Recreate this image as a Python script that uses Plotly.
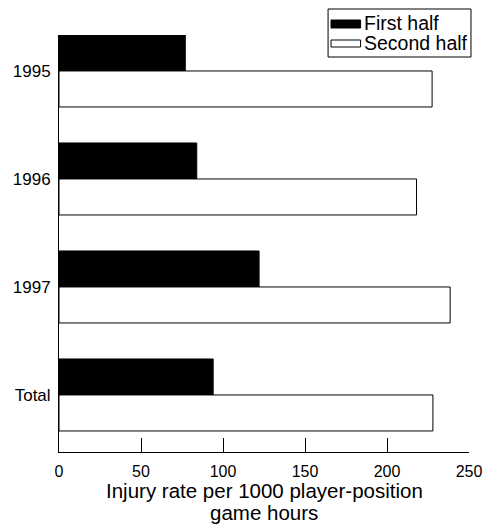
import plotly.graph_objects as go

# Injury rates per 1000 player-position game hours, by season and half
seasons = ["1995", "1996", "1997", "Total"]
first_half = [77, 84, 122, 94]
second_half = [227.5, 218, 238.5, 228]
x_ticks = [0, 50, 100, 150, 200, 250]
legend_labels = ["First half", "Second half"]
x_title_lines = ["Injury rate per 1000 player-position", "game hours"]

FONT = "Liberation Sans, Arial, Helvetica, sans-serif"

fig = go.Figure()
fig.add_trace(go.Bar(
    y=seasons, x=first_half, orientation="h", name=legend_labels[0],
    marker=dict(color="black", line=dict(color="black", width=1)),
    showlegend=False,
))
fig.add_trace(go.Bar(
    y=seasons, x=second_half, orientation="h", name=legend_labels[1],
    marker=dict(color="white", line=dict(color="black", width=1)),
    showlegend=False,
))

# Helpers converting pixel positions to paper fractions (plot spans 59..475 px wide, 35..452 px tall)
def px(xp):
    return (xp - 59) / 416.0

def py(yp):
    return (452 - yp) / 417.0

# Boxed key in the upper right corner
shapes = [
    dict(type="rect", xref="paper", yref="paper",
         x0=px(332), x1=px(477), y0=py(57), y1=py(9),
         line=dict(color="black", width=1), fillcolor="white", layer="above"),
    dict(type="rect", xref="paper", yref="paper",
         x0=px(335), x1=px(365), y0=py(28), y1=py(20),
         line=dict(color="black", width=1), fillcolor="black", layer="above"),
    dict(type="rect", xref="paper", yref="paper",
         x0=px(335), x1=px(365), y0=py(47), y1=py(40),
         line=dict(color="black", width=1), fillcolor="white", layer="above"),
]
annotations = [
    dict(xref="paper", yref="paper", x=px(366), y=py(23.5), text=legend_labels[0],
         showarrow=False, xanchor="left", yanchor="middle",
         font=dict(family=FONT, size=19.5, color="black")),
    dict(xref="paper", yref="paper", x=px(366), y=py(43.5), text=legend_labels[1],
         showarrow=False, xanchor="left", yanchor="middle",
         font=dict(family=FONT, size=19.5, color="black")),
    # x-axis title, two lines
    dict(xref="paper", yref="paper", x=0.5, y=py(490), text=x_title_lines[0],
         showarrow=False, xanchor="center", yanchor="middle",
         font=dict(family=FONT, size=20.5, color="black")),
    dict(xref="paper", yref="paper", x=0.5, y=py(512), text=x_title_lines[1],
         showarrow=False, xanchor="center", yanchor="middle",
         font=dict(family=FONT, size=20.5, color="black")),
]

fig.update_layout(
    width=494, height=527,
    margin=dict(l=59, r=19, t=35, b=75),
    paper_bgcolor="white", plot_bgcolor="white",
    barmode="group", bargap=1/3, bargroupgap=0,
    font=dict(family=FONT, color="black"),
    shapes=shapes, annotations=annotations,
    showlegend=False,
)
fig.update_xaxes(
    range=[0, 250], tickvals=x_ticks, ticktext=[str(v) for v in x_ticks],
    showline=True, linecolor="black", linewidth=1,
    ticks="inside", ticklen=14, tickcolor="black", tickwidth=1,
    showgrid=False, zeroline=False,
    tickfont=dict(family=FONT, size=16, color="black"),
    ticklabelstandoff=5,
)
fig.update_yaxes(
    type="category", categoryorder="array", categoryarray=seasons,
    range=[3.528, -0.333],
    showline=True, linecolor="black", linewidth=1,
    ticks="", showgrid=False, zeroline=False,
    tickfont=dict(family=FONT, size=17, color="black"),
    ticklabelstandoff=4,
)

fig.write_html("out.html")
